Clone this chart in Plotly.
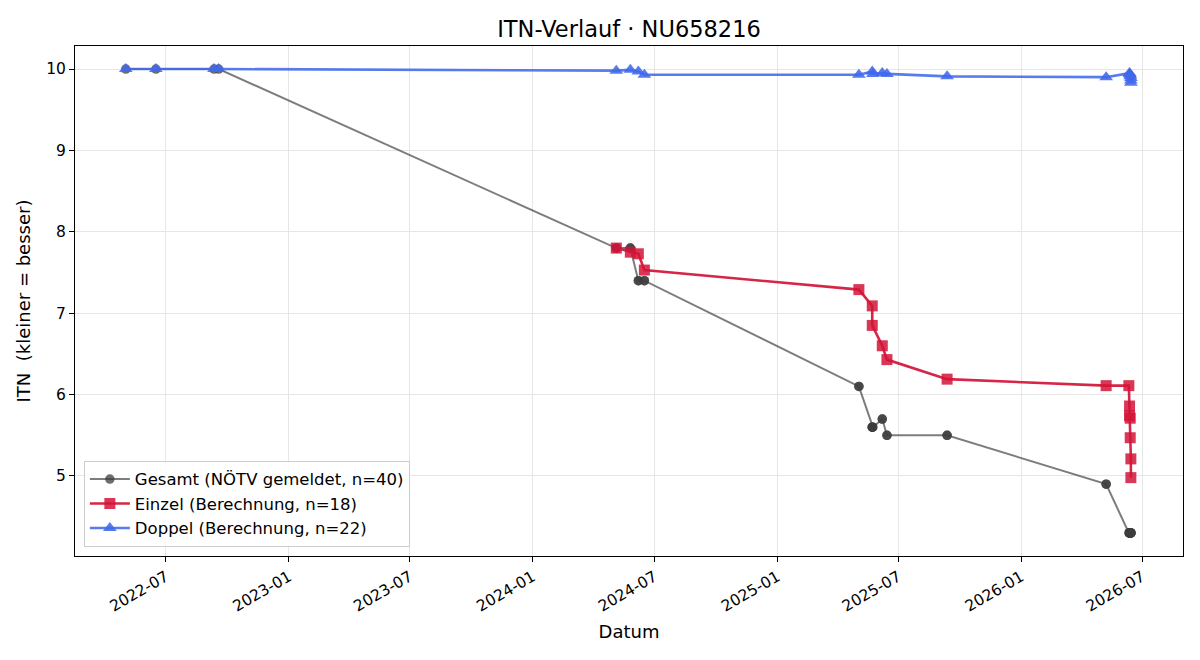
import plotly.graph_objects as go

# ---- data ----
gesamt_dates = [
    "2022-05-02", "2022-06-16", "2022-09-11", "2022-09-18",
    "2024-05-05", "2024-05-05", "2024-05-26", "2024-05-26",
    "2024-06-07", "2024-06-07", "2024-06-16", "2024-06-16",
    "2025-05-03", "2025-05-03", "2025-05-23", "2025-05-23", "2025-05-23", "2025-05-24",
    "2025-06-07", "2025-06-07", "2025-06-14", "2025-06-14",
    "2025-09-12", "2025-09-12",
    "2026-05-08", "2026-05-08",
    "2026-06-11", "2026-06-12", "2026-06-12", "2026-06-12", "2026-06-12",
    "2026-06-13", "2026-06-13", "2026-06-13", "2026-06-13",
    "2026-06-14", "2026-06-14", "2026-06-14", "2026-06-14", "2026-06-14",
]
gesamt_itn = [
    10.0, 10.0, 10.0, 10.0,
    7.8, 7.8, 7.8, 7.8,
    7.4, 7.4, 7.4, 7.4,
    6.1, 6.1, 5.6, 5.6, 5.6, 5.6,
    5.7, 5.7, 5.5, 5.5,
    5.5, 5.5,
    4.9, 4.9,
    4.3, 4.3, 4.3, 4.3, 4.3,
    4.3, 4.3, 4.3, 4.3,
    4.3, 4.3, 4.3, 4.3, 4.3,
]

einzel_dates = [
    "2024-05-05", "2024-05-26", "2024-06-07", "2024-06-16",
    "2025-05-03", "2025-05-23", "2025-05-23", "2025-06-07", "2025-06-14",
    "2025-09-12",
    "2026-05-08", "2026-06-11", "2026-06-12", "2026-06-12",
    "2026-06-13", "2026-06-13", "2026-06-14", "2026-06-14",
]
einzel_itn = [
    7.80, 7.75, 7.73, 7.53,
    7.29, 7.09, 6.85, 6.60, 6.43,
    6.19,
    6.11, 6.11, 5.86, 5.74,
    5.71, 5.47, 5.21, 4.98,
]

doppel_dates = [
    "2022-05-02", "2022-06-16", "2022-09-11", "2022-09-18",
    "2024-05-05", "2024-05-26", "2024-06-07", "2024-06-16",
    "2025-05-03", "2025-05-23", "2025-05-24", "2025-06-07", "2025-06-14",
    "2025-09-12",
    "2026-05-08", "2026-06-12", "2026-06-12", "2026-06-13",
    "2026-06-13", "2026-06-14", "2026-06-14", "2026-06-14",
]
doppel_itn = [
    10.0, 10.0, 10.0, 10.0,
    9.98, 9.99, 9.97, 9.93,
    9.93, 9.97, 9.94, 9.95, 9.94,
    9.91,
    9.90, 9.95, 9.94, 9.93,
    9.91, 9.89, 9.86, 9.83,
]

tick_vals = ["2022-07-01", "2023-01-01", "2023-07-01", "2024-01-01",
             "2024-07-01", "2025-01-01", "2025-07-01", "2026-01-01", "2026-07-01"]
tick_text = ["2022-07", "2023-01", "2023-07", "2024-01",
             "2024-07", "2025-01", "2025-07", "2026-01", "2026-07"]

fig = go.Figure()
fig.add_trace(go.Scatter(
    x=gesamt_dates, y=gesamt_itn, mode="lines+markers",
    name="Gesamt (NÖTV gemeldet, n=40)",
    line=dict(color="rgba(70,70,70,0.7)", width=2),
    marker=dict(symbol="circle", size=9.5, color="rgba(60,60,60,0.75)"),
))
fig.add_trace(go.Scatter(
    x=einzel_dates, y=einzel_itn, mode="lines+markers",
    name="Einzel (Berechnung, n=18)",
    line=dict(color="rgba(210,20,55,0.92)", width=2.6),
    marker=dict(symbol="square", size=11, color="rgba(210,20,55,0.85)"),
))
fig.add_trace(go.Scatter(
    x=doppel_dates, y=doppel_itn, mode="lines+markers",
    name="Doppel (Berechnung, n=22)",
    line=dict(color="rgba(65,105,235,0.88)", width=2.6),
    marker=dict(symbol="triangle-up", size=12, color="rgba(65,105,235,0.88)"),
))

font = "DejaVu Sans, Arial, sans-serif"
fig.update_layout(
    width=1200, height=660,
    paper_bgcolor="white", plot_bgcolor="white",
    margin=dict(l=75, r=17, t=46, b=104),
    font=dict(family=font, size=15, color="black"),
    title=dict(text="ITN-Verlauf · NU658216", xref="paper", x=0.5, xanchor="center",
               yref="container", y=1 - 29 / 660, yanchor="middle",
               font=dict(size=22.5, family=font)),
    showlegend=True,
    legend=dict(x=0.008, y=0.018, xanchor="left", yanchor="bottom",
                bgcolor="rgba(255,255,255,0.85)", bordercolor="#cccccc",
                borderwidth=1, font=dict(size=16.5, family=font),
                itemwidth=40, tracegroupgap=2),
)
fig.update_xaxes(
    type="date", range=["2022-02-15", "2026-08-31"],
    tickmode="array", tickvals=tick_vals, ticktext=tick_text, tickangle=-30,
    showgrid=True, gridcolor="#e6e6e6", gridwidth=1,
    showline=True, linecolor="black", linewidth=1, mirror=True,
    ticks="outside", ticklen=5, tickcolor="black",
    tickfont=dict(size=15.5, family=font),
    title=dict(text="Datum", font=dict(size=18, family=font), standoff=10),
    zeroline=False,
)
fig.update_yaxes(
    range=[4.017, 10.283], tickvals=[5, 6, 7, 8, 9, 10],
    showgrid=True, gridcolor="#e6e6e6", gridwidth=1,
    showline=True, linecolor="black", linewidth=1, mirror=True,
    ticks="outside", ticklen=5, tickcolor="black",
    tickfont=dict(size=15.5, family=font),
    title=dict(text="ITN  (kleiner = besser)", font=dict(size=18, family=font), standoff=10),
    zeroline=False,
)

fig.write_html("out.html")
